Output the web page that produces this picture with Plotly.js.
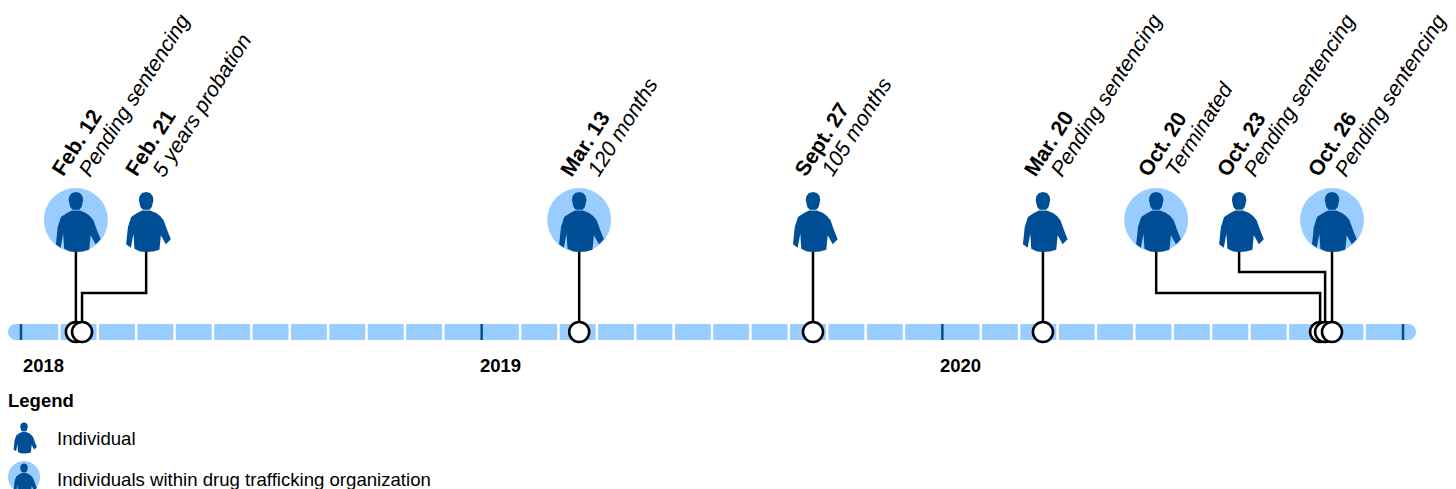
<!DOCTYPE html>
<html><head><meta charset="utf-8">
<script src="https://cdn.plot.ly/plotly-3.0.1.min.js"></script>
<style>html,body{margin:0;padding:0;background:#fff;overflow:hidden}</style>
</head><body><div id="chart" style="width:1456px;height:489px"></div>
<script>
// x values are months since January 2018
const eventDates = ["Feb. 12","Feb. 21","Mar. 13","Sept. 27","Mar. 20","Oct. 20","Oct. 23","Oct. 26"];
const eventOutcomes = ["Pending sentencing","5 years probation","120 months","105 months","Pending sentencing","Terminated","Pending sentencing","Pending sentencing"];
const timelineMonth = [1.43,1.59,14.54,20.63,26.62,33.84,33.97,34.15];
const iconMonth = [1.43,3.26,14.54,20.63,26.62,29.57,31.73,34.15];
const inOrganization = [true,false,true,false,false,true,false,true];
const elbowLevel = [null,293,null,null,null,293,272,null];
const labelShift = [-30,-27,-25,-25,-25,-24,-28,-30];
const yearLabels = ["2018","2019","2020"];
const yearMonth = [0,12,24,36];
const yearShift = [1,-3,-3];

const LIGHT="#99CCFF", DARK="#004F96", FONT="Liberation Sans, Arial, sans-serif";
const PX0=21, PXM=38.39;
const xRange=[(0-PX0)/PXM,(1456-PX0)/PXM];
const BAR_Y=332, ICON_Y=222, ICON_BOTTOM=252, CIRCLE_Y=220;

const body=[[-4,-11.5],[4,-11.5],[10,-9],[14,-6],[17.5,-1.7],[21,8],[24.7,17.3],[19.7,22.3],[14.7,13.3],[13.3,27.7],[7,29.5],[0,30],[-6,29.5],[-11.7,26.7],[-12.7,11.7],[-15.3,25.7],[-20,22.3],[-18.2,5],[-15,-5],[-9,-9]];
const head=[[0,-30],[4,-29],[6.5,-26],[7.3,-22],[5.7,-15],[3.3,-12.3],[-3.3,-12.3],[-5.7,-15],[-7.3,-22],[-6.5,-26],[-4,-29]];
function poly(p,s){return "M"+p.map(q=>(q[0]*s).toFixed(2)+","+(-q[1]*s).toFixed(2)).join(" L")+" Z";}
function person(xref,x,y,s){return {type:"path",layer:"above",xref:xref,yref:"y",xsizemode:"pixel",ysizemode:"pixel",xanchor:x,yanchor:y,
  path:poly(body,s)+" "+poly(head,s),fillcolor:DARK,line:{width:0}};}

const traces=[];
traces.push({x:[-0.13,36.13],y:[BAR_Y,BAR_Y],mode:"lines+markers",line:{color:LIGHT,width:16},marker:{color:LIGHT,size:16}});
const gx=[],gy=[];
for(let m=1;m<36;m++){ if(m%12===0) continue; gx.push(m,m,null); gy.push(BAR_Y-9,BAR_Y+9,null);}
traces.push({x:gx,y:gy,mode:"lines",line:{color:"#fff",width:2.5}});
const yx=[],yy=[];
yearMonth.forEach(m=>{yx.push(m,m,null);yy.push(BAR_Y-8,BAR_Y+8,null);});
traces.push({x:yx,y:yy,mode:"lines",line:{color:DARK,width:2.5}});
traces.push({x:iconMonth.filter((_,i)=>inOrganization[i]),y:iconMonth.filter((_,i)=>inOrganization[i]).map(()=>CIRCLE_Y),mode:"markers",marker:{color:LIGHT,size:64}});
iconMonth.forEach((m,i)=>{
  const t=timelineMonth[i];
  const lvl=elbowLevel[i];
  const xs=lvl===null?[m,m]:[m,m,t,t];
  const ys=lvl===null?[ICON_BOTTOM-1,BAR_Y]:[ICON_BOTTOM-1,lvl,lvl,BAR_Y];
  traces.push({x:xs,y:ys,mode:"lines",line:{color:"#000",width:2.5}});
});
timelineMonth.forEach(m=>traces.push({x:[m],y:[BAR_Y],mode:"markers",marker:{color:"#fff",size:20,line:{color:"#000",width:2.6}}}));

const annotations=[];
eventDates.forEach((d,i)=>{
  annotations.push({x:iconMonth[i],y:182,xref:"x",yref:"y",xanchor:"left",yanchor:"bottom",xshift:labelShift[i],showarrow:false,textangle:-57.5,
    text:"<b>"+d+"</b>",font:{family:FONT,size:21.3,color:"#000"},borderpad:0});
  annotations.push({x:iconMonth[i],y:182,xref:"x",yref:"y",xanchor:"left",yanchor:"bottom",xshift:labelShift[i]+27,showarrow:false,textangle:-57.5,
    text:"<i>"+eventOutcomes[i]+"</i>",font:{family:FONT,size:21.3,color:"#000"},borderpad:0});
});
yearLabels.forEach((t,i)=>annotations.push({x:yearMonth[i],y:365,xref:"x",yref:"y",xanchor:"left",yanchor:"middle",xshift:yearShift[i],showarrow:false,
  text:"<b>"+t+"</b>",font:{family:FONT,size:18.5,color:"#000"},borderpad:0}));
annotations.push({x:7/1456,y:400,xref:"paper",yref:"y",xanchor:"left",yanchor:"middle",showarrow:false,text:"<b>Legend</b>",font:{family:FONT,size:18.5,color:"#000"},borderpad:0});
annotations.push({x:56/1456,y:438,xref:"paper",yref:"y",xanchor:"left",yanchor:"middle",showarrow:false,text:"Individual",font:{family:FONT,size:18.6,color:"#000"},borderpad:0});
annotations.push({x:56/1456,y:479,xref:"paper",yref:"y",xanchor:"left",yanchor:"middle",showarrow:false,text:"Individuals within drug trafficking organization",font:{family:FONT,size:18.6,color:"#000"},borderpad:0});

const shapes=iconMonth.map(m=>person("x",m,ICON_Y,1));
shapes.push(person("paper",24/1456,438,0.52));
shapes.push({type:"circle",layer:"above",xref:"paper",yref:"y",xsizemode:"pixel",ysizemode:"pixel",xanchor:24/1456,yanchor:477,x0:-16,x1:16,y0:-16,y1:16,fillcolor:LIGHT,line:{width:0}});
shapes.push(person("paper",24/1456,479,0.52));

Plotly.newPlot("chart",traces,{
  width:1456,height:489,margin:{l:0,r:0,t:0,b:0},showlegend:false,paper_bgcolor:"#fff",plot_bgcolor:"#fff",
  xaxis:{range:xRange,visible:false,fixedrange:true},
  yaxis:{range:[489,0],visible:false,fixedrange:true},
  annotations:annotations,shapes:shapes
},{displayModeBar:false,staticPlot:true});
</script></body></html>
